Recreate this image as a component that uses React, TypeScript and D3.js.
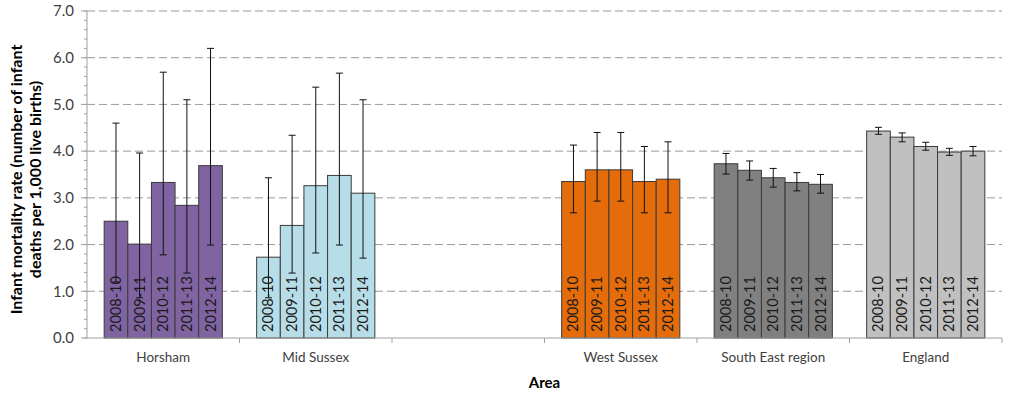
import React from 'react';
import * as d3 from "d3";

const areas = ["Horsham", "Mid Sussex", "", "West Sussex", "South East region", "England"];
const periods = ["2008-10", "2009-11", "2010-12", "2011-13", "2012-14"];
const areaColors = ["#8064A2", "#B7DEE8", "none", "#E46C0A", "#808080", "#C0C0C0"];

// rate per area, one value per period (blank area has none)
const horshamRate = [2.50, 2.01, 3.33, 2.84, 3.69];
const horshamLower = [1.20, 0.86, 1.78, 1.39, 1.99];
const horshamUpper = [4.60, 3.96, 5.69, 5.10, 6.20];

const midSussexRate = [1.73, 2.41, 3.26, 3.48, 3.10];
const midSussexLower = [0.86, 1.39, 1.82, 1.99, 1.71];
const midSussexUpper = [3.43, 4.34, 5.37, 5.67, 5.10];

const westSussexRate = [3.35, 3.60, 3.60, 3.35, 3.40];
const westSussexLower = [2.68, 2.93, 2.93, 2.68, 2.68];
const westSussexUpper = [4.13, 4.40, 4.40, 4.10, 4.20];

const southEastRate = [3.73, 3.59, 3.43, 3.33, 3.29];
const southEastLower = [3.51, 3.38, 3.23, 3.15, 3.10];
const southEastUpper = [3.95, 3.79, 3.63, 3.54, 3.50];

const englandRate = [4.43, 4.30, 4.10, 3.98, 4.00];
const englandLower = [4.36, 4.20, 4.02, 3.91, 3.90];
const englandUpper = [4.51, 4.39, 4.19, 4.06, 4.10];

const yTicks = [0, 1, 2, 3, 4, 5, 6, 7];

type row = {area: string, period: string, value: number, lo: number, hi: number, fill: string};

const App = () => {
    const width = 1024;
    const height = 396;
    const left = 87;
    const right = 1002;
    const top = 11;
    const bottom = 338;
    const font = "Lato, 'Open Sans', sans-serif";

    const series: [number[], number[], number[]][] = [
        [horshamRate, horshamLower, horshamUpper],
        [midSussexRate, midSussexLower, midSussexUpper],
        [[], [], []],
        [westSussexRate, westSussexLower, westSussexUpper],
        [southEastRate, southEastLower, southEastUpper],
        [englandRate, englandLower, englandUpper],
    ];

    const rows: row[] = [];
    areas.forEach((a, i) => {
        const [v, lo, hi] = series[i];
        v.forEach((val, j) => rows.push({
            area: a + "#" + i, period: periods[j], value: val, lo: lo[j], hi: hi[j], fill: areaColors[i],
        }));
    });

    const xScale = d3.scaleBand<string>()
        .domain(areas.map((a, i) => a + "#" + i))
        .range([left, right])
        .padding(0);
    const groupWidth = xScale.bandwidth() * 0.775;
    const inner = d3.scaleBand<string>()
        .domain(periods)
        .range([(xScale.bandwidth() - groupWidth) / 2, (xScale.bandwidth() + groupWidth) / 2])
        .padding(0);

    const yScale = d3.scaleLinear().domain([0, 7]).range([bottom, top]);
    const minorTicks = d3.range(0, 7.01, 0.2);

    const capHalf = 3.5;

    return (
        <svg width={width} height={height} style={{position: "absolute", left: 0, top: 0}}>
            <rect width={width} height={height} fill="white"/>
            {/* grid */}
            {yTicks.filter(t => t > 0).map(t => (
                <line key={"g" + t} x1={left} x2={right} y1={yScale(t)} y2={yScale(t)}
                      stroke="#9a9a9a" strokeWidth={1} strokeDasharray="8,4"/>
            ))}
            {/* y axis */}
            <line x1={left} x2={left} y1={top} y2={bottom} stroke="#a0a0a0"/>
            {minorTicks.map((t, i) => (
                <line key={"m" + i} x1={left - 3} x2={left} y1={yScale(t)} y2={yScale(t)} stroke="#a0a0a0"/>
            ))}
            {yTicks.map(t => (
                <g key={"t" + t}>
                    <line x1={left - 6} x2={left} y1={yScale(t)} y2={yScale(t)} stroke="#a0a0a0"/>
                    <text x={left - 13} y={yScale(t)} dy="0.35em" textAnchor="end"
                          fontFamily={font} fontSize={15} fill="#404040">{t.toFixed(1)}</text>
                </g>
            ))}
            <text transform={`translate(22,${(top + bottom) / 2 + 5}) rotate(-90)`} textAnchor="middle"
                  fontFamily={font} fontWeight="bold" fontSize={16} fill="#000">
                <tspan x={0} dy={0}>Infant mortality rate (number of infant</tspan>
                <tspan x={0} dy={19}>deaths per 1,000 live births)</tspan>
            </text>

            {/* bars */}
            {rows.map((d, i) => {
                const x0 = (xScale(d.area) as number) + (inner(d.period) as number);
                const w = inner.bandwidth();
                const cx = x0 + w / 2;
                return (
                    <g key={"b" + i}>
                        <rect x={x0} y={yScale(d.value)} width={w} height={bottom - yScale(d.value)}
                              fill={d.fill} stroke="#3a3a3a" strokeWidth={1}/>
                        <text transform={`translate(${cx + 5},${bottom - 6}) rotate(-90)`}
                              fontFamily={font} fontSize={14.5} fill="#1a1a1a">{d.period}</text>
                        <line x1={cx} x2={cx} y1={yScale(d.lo)} y2={yScale(d.hi)} stroke="#111" strokeWidth={1}/>
                        <line x1={cx - capHalf} x2={cx + capHalf} y1={yScale(d.hi)} y2={yScale(d.hi)} stroke="#111"/>
                        <line x1={cx - capHalf} x2={cx + capHalf} y1={yScale(d.lo)} y2={yScale(d.lo)} stroke="#111"/>
                    </g>
                );
            })}

            {/* x axis */}
            <line x1={left} x2={right} y1={bottom} y2={bottom} stroke="#a0a0a0"/>
            {areas.map((a, i) => {
                const x = xScale(a + "#" + i) as number;
                return (
                    <g key={"x" + i}>
                        <line x1={x + xScale.bandwidth()} x2={x + xScale.bandwidth()} y1={bottom} y2={bottom + 5} stroke="#a0a0a0"/>
                        <text x={x + xScale.bandwidth() / 2} y={bottom + 24} textAnchor="middle"
                              fontFamily={font} fontSize={13.5} fill="#404040">{a}</text>
                    </g>
                );
            })}
            <text x={(left + right) / 2} y={388} textAnchor="middle" fontFamily={font}
                  fontWeight="bold" fontSize={15} fill="#000">Area</text>
        </svg>
    );
};

export default App;
